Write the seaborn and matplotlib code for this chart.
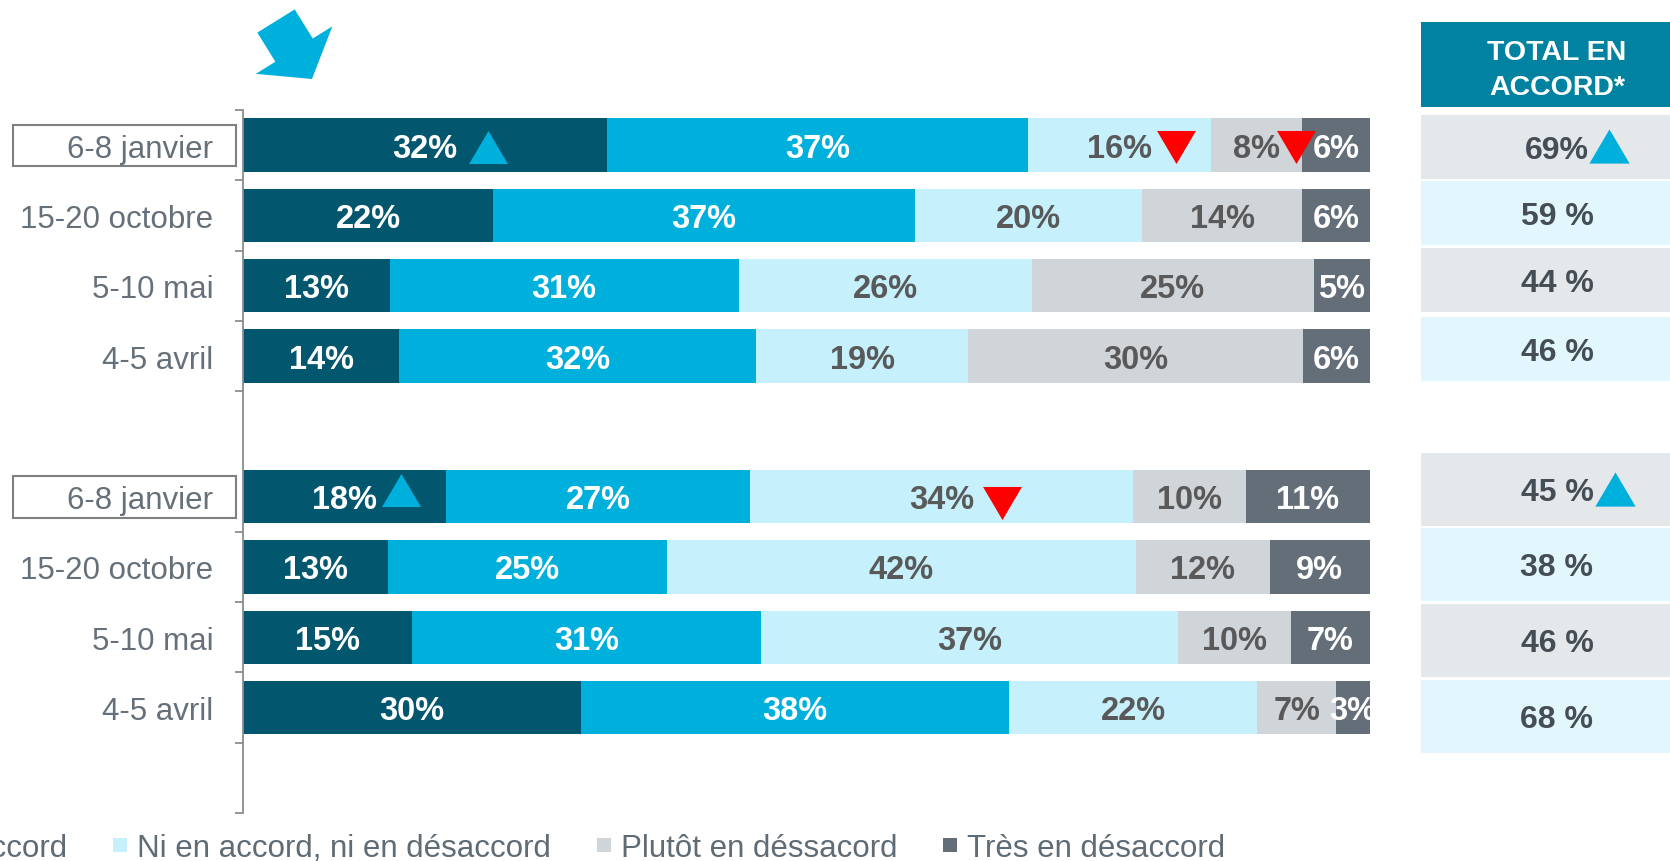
import numpy as np
import pandas as pd
import seaborn as sns
import matplotlib.pyplot as plt
import matplotlib.transforms as mtransforms
from matplotlib.patches import Rectangle, FancyArrow
from matplotlib.lines import Line2D

# data
dates = ["6-8 janvier", "15-20 octobre", "5-10 mai", "4-5 avril"]
segment_names = ["Tout à fait en accord", "Plutôt en accord",
                 "Ni en accord, ni en désaccord", "Plutôt en déssacord",
                 "Très en désaccord"]

tout_accord_top = [32, 22, 13, 14]
plutot_accord_top = [37, 37, 31, 32]
ni_ni_top = [16, 20, 26, 19]
plutot_desaccord_top = [8, 14, 25, 30]
tres_desaccord_top = [6, 6, 5, 6]

tout_accord_bot = [18, 13, 15, 30]
plutot_accord_bot = [27, 25, 31, 38]
ni_ni_bot = [34, 42, 37, 22]
plutot_desaccord_bot = [10, 12, 10, 7]
tres_desaccord_bot = [11, 9, 7, 3]

total_accord_top = ["69%", "59 %", "44 %", "46 %"]
total_accord_bot = ["45 %", "38 %", "46 %", "68 %"]

# significant changes: (row key, segment, direction, x offset px, y offset px, down = +)
bar_flags = [("t0", 0, "up", 63, 2), ("t0", 2, "down", 56, 2),
             ("t0", 3, "down", 40, 2), ("b0", 0, "up", 57, -7),
             ("b0", 2, "down", 60, 6)]
table_flags = [("top", 0, 52), ("bot", 0, 58)]

colors = ["#02566e", "#00b0dc", "#c5f0fc", "#d0d5d9", "#646e78"]
text_colors = ["white", "white", "#595959", "#595959", "white"]

sns.set_theme(style="white")
plt.rcParams["font.family"] = ["Liberation Sans", "DejaVu Sans"]

keys = ["t0", "t1", "t2", "t3", "gap", "b0", "b1", "b2", "b3", "end"]
groups = {"t": [tout_accord_top, plutot_accord_top, ni_ni_top, plutot_desaccord_top, tres_desaccord_top],
          "b": [tout_accord_bot, plutot_accord_bot, ni_ni_bot, plutot_desaccord_bot, tres_desaccord_bot]}

rows = []
for g, series in groups.items():
    for i in range(len(dates)):
        vals = [s[i] for s in series]
        total = sum(vals)
        cum = 0
        for k, v in enumerate(vals):
            share = v / total * 100
            rows.append(dict(key=f"{g}{i}", seg=k, value=v, left=cum, right=cum + share))
            cum += share
df = pd.DataFrame(rows)

W, H = 1670, 862
fig = plt.figure(figsize=(W / 100, H / 100), dpi=100)
ax = fig.add_axes([243 / W, 1 - 814 / H, (1370 - 243) / W, (814 - 111) / H])

# stacked bars: draw cumulative totals from the last segment backwards
for k in reversed(range(5)):
    sub = df[df.seg == k]
    sns.barplot(data=sub, x="right", y="key", order=keys, orient="h",
                color=colors[k], saturation=1, width=0.76, errorbar=None,
                linewidth=0, ax=ax)

text_tr = mtransforms.offset_copy(ax.transData, fig=fig, x=0, y=-3, units="dots")
for _, r in df.iterrows():
    ax.text((r.left + r.right) / 2, keys.index(r.key), f"{r.value}%",
            ha="center", va="center", fontsize=23.5, fontweight="bold",
            color=text_colors[r.seg], transform=text_tr)

up_marker = [(0, 0.85), (-1, -0.85), (1, -0.85)]
down_marker = [(0, -0.85), (-1, 0.85), (1, 0.85)]
for key, seg, direction, dx, dy in bar_flags:
    r = df[(df.key == key) & (df.seg == seg)].iloc[0]
    tr = mtransforms.offset_copy(ax.transData, fig=fig, x=dx, y=-dy, units="dots")
    ax.plot((r.left + r.right) / 2, keys.index(key), transform=tr, linestyle="",
            marker=up_marker if direction == "up" else down_marker,
            markersize=28, color="#00b0dc" if direction == "up" else "#ff0000",
            markeredgewidth=0, clip_on=False)

ax.set_xlim(0, 100)
ax.set_ylim(9.5, -0.5)
ax.set_xlabel("")
ax.set_ylabel("")
ax.xaxis.set_visible(False)
for s in ["top", "right", "bottom"]:
    ax.spines[s].set_visible(False)
ax.spines["left"].set_color("#8c8c8c")
ax.spines["left"].set_linewidth(1.3)
centers = [0, 1, 2, 3, 5, 6, 7, 8]
ax.set_yticks(centers, dates * 2)
ax.set_yticks([-0.5, 0.5, 1.5, 2.5, 3.5, 5.5, 6.5, 7.5, 8.5, 9.5], minor=True)
ax.tick_params(axis="y", which="major", length=0, pad=21.5, labelsize=22.5,
               labelcolor="#66707a")
ax.tick_params(axis="y", which="minor", left=True, length=6, width=1.3,
               color="#8c8c8c")

# overlay in pixel coordinates for decorations and the side table
ov = fig.add_axes([0, 0, 1, 1])
ov.set_xlim(0, W)
ov.set_ylim(H, 0)
ov.axis("off")

ov.add_patch(FancyArrow(276, 22, 36, 58, width=44, head_width=90, head_length=34,
                        length_includes_head=True, color="#00b0dc", linewidth=0))

for y0, y1 in [(126, 167), (477, 519)]:
    ov.add_patch(Rectangle((13, y0), 223, y1 - y0, fill=False,
                           edgecolor="#7f7f7f", linewidth=1.5))

tx0, tx1, tcx = 1421, 1700, 1557
ov.add_patch(Rectangle((tx0, 23), tx1 - tx0, 85, color="#0082a0", linewidth=0))
ov.text(tcx, 53, "TOTAL EN", ha="center", va="center", color="white",
        fontsize=20.5, fontweight="bold")
ov.text(tcx, 88, "ACCORD*", ha="center", va="center", color="white",
        fontsize=20.5, fontweight="bold")

cell_colors = ["#e4e8eb", "#e1f7fd"]
table = {"top": (total_accord_top, [116, 182, 249, 318], 64),
         "bot": (total_accord_bot, [454, 529, 605, 681], 73)}
for name, (labels, tops, h) in table.items():
    for i, lab in enumerate(labels):
        ov.add_patch(Rectangle((tx0, tops[i]), tx1 - tx0, h,
                               color=cell_colors[i % 2], linewidth=0))
        ov.text(tcx, tops[i] + h / 2 + 3, lab, ha="center", va="center",
                color="#454d55", fontsize=23, fontweight="bold")
for name, i, dx in table_flags:
    labels, tops, h = table[name]
    ov.plot(tcx + dx, tops[i] + h / 2 - 1, linestyle="",
            marker=up_marker, markersize=29, color="#00b0dc", markeredgewidth=0)

handles = [Line2D([], [], linestyle="", marker="s", markersize=10.5,
                  color=c, markeredgewidth=0) for c in colors]
fig.legend(handles, segment_names, ncol=5, loc="center right",
           bbox_to_anchor=(1225 / W, 1 - 849 / H), frameon=False,
           fontsize=22.5, labelcolor="#5f6b75", handlelength=0.6,
           handletextpad=0.25, columnspacing=1.38, borderpad=0,
           borderaxespad=0)

fig.savefig("out.png", dpi=100)
